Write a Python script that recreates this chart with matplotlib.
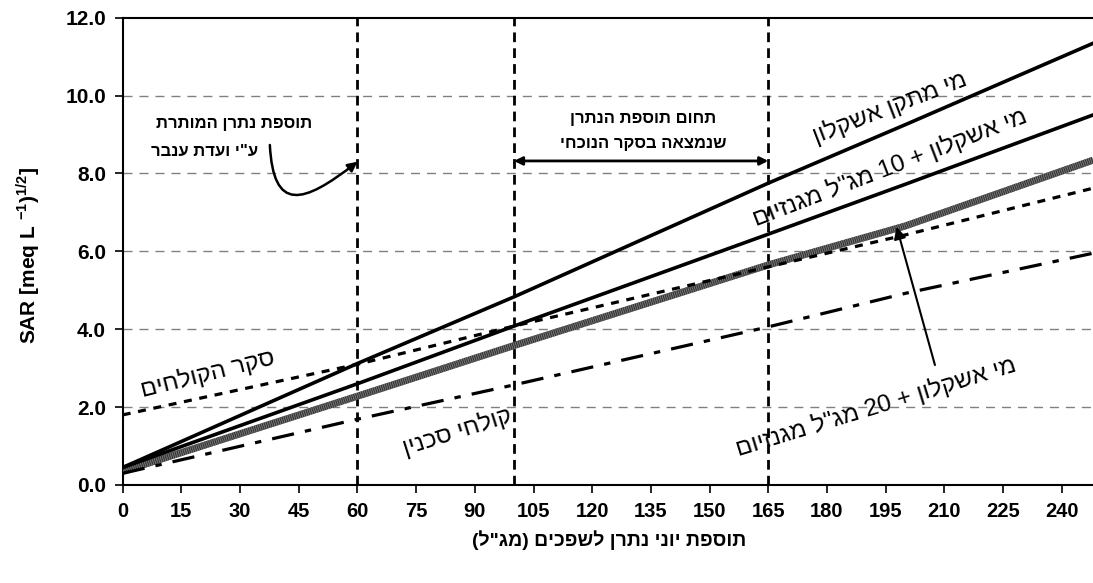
import re

import matplotlib
matplotlib.use("Agg")
import matplotlib.pyplot as plt
from matplotlib.path import Path
from matplotlib.patches import FancyArrowPatch

plt.rcParams["font.family"] = ["Liberation Sans", "DejaVu Sans"]
plt.rcParams["mathtext.fontset"] = "custom"
plt.rcParams["mathtext.bf"] = "Liberation Sans:bold"
plt.rcParams["mathtext.rm"] = "Liberation Sans:bold"

# sodium addition (mg/L) and SAR
sodium_add = [0, 60, 100, 165, 200, 248]
desal_ashkelon = [0.45, 3.12, 4.83, 7.75, 9.25, 11.34]
ashkelon_mg10 = [0.45, 2.60, 4.08, 6.44, 7.72, 9.50]
ashkelon_mg20 = [0.35, 2.28, 3.58, 5.65, 6.65, 8.34]
effluent_survey = [1.80, 3.10, 4.08, 5.60, 6.42, 7.62]
sakhnin_effluent = [0.30, 1.69, 2.57, 4.06, 4.92, 5.95]

x_ticks = list(range(0, 241, 15))
y_ticks = [0, 2, 4, 6, 8, 10, 12]
limit_lines = [60, 100, 165]


def heb(s):
    """Logical Hebrew -> visual order (matplotlib draws left to right)."""
    r = s[::-1]
    r = re.sub(r"\d+", lambda m: m.group(0)[::-1], r)
    return r.translate(str.maketrans("()", ")("))


fig = plt.figure(figsize=(10.93, 5.83), dpi=100)
ax = fig.add_axes([0.1123, 0.1681, 0.8877, 0.8017])

for yv in y_ticks[1:-1]:
    ax.axhline(yv, color="#808080", lw=1.0, dashes=(6.5, 5), zorder=1)
for xv in limit_lines:
    ax.axvline(xv, color="black", lw=2.0, dashes=(3.5, 2.2), zorder=2)

ax.plot(sodium_add, desal_ashkelon, color="black", lw=2.6, zorder=4)
ax.plot(sodium_add, ashkelon_mg10, color="black", lw=2.6, zorder=4)
ax.plot(sodium_add, ashkelon_mg20, color="#303030", lw=5, zorder=3,
        solid_capstyle="butt")
stripes, = ax.plot(sodium_add, ashkelon_mg20, color="#767676", lw=5, zorder=3)
stripes.set_dashes([0.15, 0.15])
ax.plot(sodium_add, effluent_survey, color="black", lw=2.3, dashes=(2.5, 2.4), zorder=4)
ax.plot(sodium_add, sakhnin_effluent, color="black", lw=2.3,
        dashes=(7, 3.5, 2, 3.5), zorder=4)

ax.set_xlim(0, 248)
ax.set_ylim(0, 12)
ax.set_xticks(x_ticks)
ax.set_yticks(y_ticks)
ax.set_yticklabels([f"{v:.1f}" for v in y_ticks])
ax.tick_params(direction="out", length=6, width=1.2, labelsize=14.5, pad=6)
ax.tick_params(axis="y", labelsize=15)
for lab in ax.get_xticklabels() + ax.get_yticklabels():
    lab.set_fontweight("bold")
for side in ["left", "bottom", "top"]:
    ax.spines[side].set_linewidth(1.5)
ax.spines["right"].set_visible(False)

# annotations
ax.text(28.5, 9.29, heb("תוספת נתרן המותרת"), ha="center", va="center",
        fontsize=12, fontweight="bold")
ax.text(20.8, 8.55, heb('ע"י ועדת ענבר'), ha="center", va="center",
        fontsize=12, fontweight="bold")
curve = Path([(37.6, 8.73), (38.5, 7.0), (46, 7.2), (60, 8.3)],
             [Path.MOVETO, Path.CURVE4, Path.CURVE4, Path.CURVE4])
ax.add_patch(FancyArrowPatch(path=curve, arrowstyle="-|>", mutation_scale=14,
                             lw=1.8, color="black", zorder=5))

ax.text(133, 9.42, heb("תחום תוספת הנתרן"), ha="center", va="center",
        fontsize=12, fontweight="bold")
ax.text(133, 8.78, heb("שנמצאה בסקר הנוכחי"), ha="center", va="center",
        fontsize=12, fontweight="bold")
ax.annotate("", xy=(100, 8.32), xytext=(165, 8.32),
            arrowprops=dict(arrowstyle="<|-|>", lw=2, color="black",
                            shrinkA=0, shrinkB=0, mutation_scale=12))

ax.annotate("", xy=(197.8, 6.63), xytext=(207.6, 3.08),
            arrowprops=dict(arrowstyle="-|>", lw=1.5, color="black",
                            shrinkA=0, shrinkB=0, mutation_scale=18))

labels = [
    ("מי מתקן אשקלון", 196.0, 9.7, 21),
    ('מי אשקלון + 10 מג"ל מגנזיום', 196.0, 8.15, 21),
    ("סקר הקולחים", 21.8, 2.85, 14),
    ("קולחי סכנין", 85.4, 1.36, 17.5),
    ('מי אשקלון + 20 מג"ל מגנזיום', 192.5, 2.0, 17),
]
for txt, lx, ly, rot in labels:
    ax.text(lx, ly, heb(txt), ha="center", va="center", rotation=rot,
            rotation_mode="anchor", fontsize=17.5, zorder=6)

fig.text(28 / 1093, 0.563, r"SAR [meq L $^{\mathbf{-1}}$)$^{\mathbf{1/2}}$]",
         rotation=90, ha="center", va="center", fontsize=15, fontweight="bold")
fig.text(0.557, 0.074, heb('תוספת יוני נתרן לשפכים (מג"ל)'), ha="center",
         va="center", fontsize=14, fontweight="bold")

fig.savefig("out.png", dpi=100)
